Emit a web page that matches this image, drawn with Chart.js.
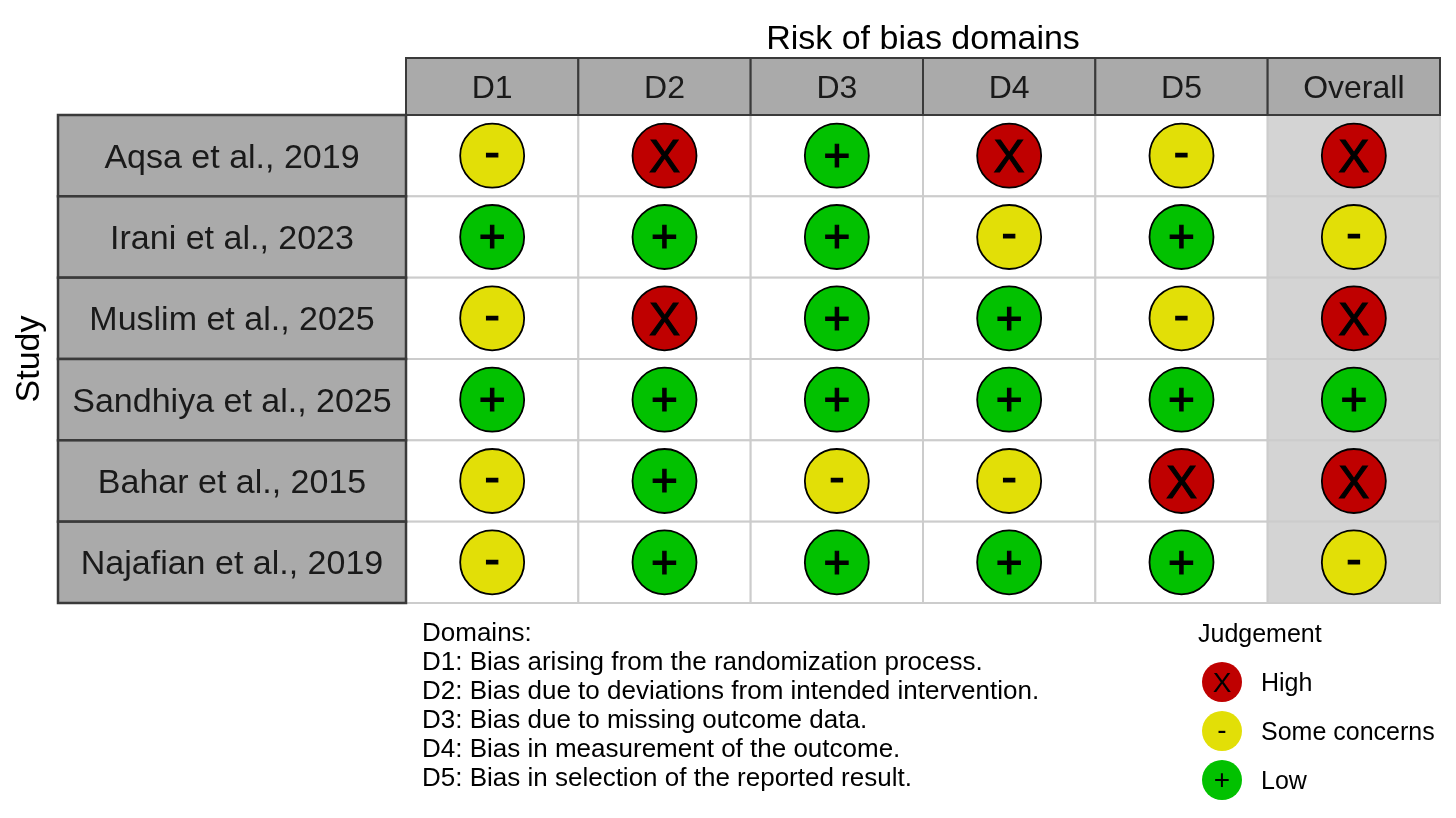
<!DOCTYPE html>
<html>
<head>
<meta charset="utf-8">
<script src="https://cdn.jsdelivr.net/npm/chart.js@4.4.1/dist/chart.umd.min.js"></script>
<style>
html, body { margin: 0; padding: 0; background: #fff; overflow: hidden; }
#wrap { width: 1456px; height: 818px; position: relative; }
</style>
</head>
<body>
<div id="wrap"><canvas id="robChart"></canvas></div>
<script>
const domains = ['D1', 'D2', 'D3', 'D4', 'D5', 'Overall'];
const studies = ['Aqsa et al., 2019', 'Irani et al., 2023', 'Muslim et al., 2025',
                 'Sandhiya et al., 2025', 'Bahar et al., 2015', 'Najafian et al., 2019'];

// judgement of each study, in domain order (H = high, S = some concerns, L = low)
const aqsa     = ['S', 'H', 'L', 'H', 'S', 'H'];
const irani    = ['L', 'L', 'L', 'S', 'L', 'S'];
const muslim   = ['S', 'H', 'L', 'L', 'S', 'H'];
const sandhiya = ['L', 'L', 'L', 'L', 'L', 'L'];
const bahar    = ['S', 'L', 'S', 'S', 'H', 'H'];
const najafian = ['S', 'L', 'L', 'L', 'L', 'S'];
const judgements = [aqsa, irani, muslim, sandhiya, bahar, najafian];

const levels = ['H', 'S', 'L'];
const levelNames = ['High', 'Some concerns', 'Low'];
const levelSymbols = ['X', '-', '+'];
const levelColors = ['#BF0000', '#E2DF07', '#02C100'];

const domainNotes = [
  'Domains:',
  'D1: Bias arising from the randomization process.',
  'D2: Bias due to deviations from intended intervention.',
  'D3: Bias due to missing outcome data.',
  'D4: Bias in measurement of the outcome.',
  'D5: Bias in selection of the reported result.'
];

const FONT = '"Liberation Sans", Arial, Helvetica, sans-serif';

// one dataset per judgement level
const datasets = levels.map((lv, k) => {
  const pts = [];
  judgements.forEach((row, s) => {
    row.forEach((j, d) => {
      if (j === lv) pts.push({ x: domains[d], y: studies[s] });
    });
  });
  return {
    label: levelNames[k],
    symbol: levelSymbols[k],
    data: pts,
    backgroundColor: levelColors[k],
    borderColor: '#000',
    borderWidth: 1.8,
    pointRadius: 32,
    pointHoverRadius: 32
  };
});

// baseline shift so each symbol sits in the middle of its circle
function symbolOffset(sym, size) {
  if (sym === '-') return size * 0.27;
  if (sym === '+') return size * 0.33;
  return size * 0.36;
}

const robPlugin = {
  id: 'robGrid',
  beforeDatasetsDraw(chart) {
    const ctx = chart.ctx;
    const area = chart.chartArea;
    const xs = chart.scales.x, ys = chart.scales.y;
    const cw = (area.right - area.left) / domains.length;
    const rh = (area.bottom - area.top) / studies.length;
    ctx.save();

    // body cells
    domains.forEach((d, i) => {
      const cx = xs.getPixelForValue(i);
      studies.forEach((s, j) => {
        const cy = ys.getPixelForValue(j);
        ctx.fillStyle = d === 'Overall' ? '#d4d4d4' : '#ffffff';
        ctx.fillRect(cx - cw / 2, cy - rh / 2, cw, rh);
        ctx.strokeStyle = '#cccccc';
        ctx.lineWidth = 2;
        ctx.strokeRect(cx - cw / 2, cy - rh / 2, cw, rh);
      });
    });

    // header cells
    const hTop = 58;
    domains.forEach((d, i) => {
      const cx = xs.getPixelForValue(i);
      ctx.fillStyle = '#aaaaaa';
      ctx.fillRect(cx - cw / 2, hTop, cw, area.top - hTop);
      ctx.strokeStyle = '#3a3a3a';
      ctx.lineWidth = 2;
      ctx.strokeRect(cx - cw / 2, hTop, cw, area.top - hTop);
      ctx.fillStyle = '#1a1a1a';
      ctx.font = '32px ' + FONT;
      ctx.textAlign = 'center';
      ctx.textBaseline = 'alphabetic';
      ctx.fillText(d, cx, (hTop + area.top) / 2 + 11.5);
    });

    // study label cells
    const lLeft = 58;
    studies.forEach((s, j) => {
      const cy = ys.getPixelForValue(j);
      ctx.fillStyle = '#aaaaaa';
      ctx.fillRect(lLeft, cy - rh / 2, area.left - lLeft, rh);
      ctx.strokeStyle = '#3a3a3a';
      ctx.lineWidth = 2.5;
      ctx.strokeRect(lLeft, cy - rh / 2, area.left - lLeft, rh);
      ctx.fillStyle = '#1a1a1a';
      ctx.font = '34px ' + FONT;
      ctx.textAlign = 'center';
      ctx.textBaseline = 'alphabetic';
      ctx.fillText(s, (lLeft + area.left) / 2, cy + 12);
    });
    ctx.restore();
  },
  afterDatasetsDraw(chart) {
    const ctx = chart.ctx;
    ctx.save();
    ctx.fillStyle = '#000';
    ctx.strokeStyle = '#000';
    ctx.lineWidth = 1.2;
    ctx.textAlign = 'center';
    ctx.textBaseline = 'alphabetic';
    chart.data.datasets.forEach((ds, k) => {
      const meta = chart.getDatasetMeta(k);
      const size = 46;
      ctx.font = size + 'px ' + FONT;
      meta.data.forEach(pt => {
        const y = pt.y + symbolOffset(ds.symbol, size);
        ctx.fillText(ds.symbol, pt.x, y);
        ctx.strokeText(ds.symbol, pt.x, y);
      });
    });
    ctx.restore();
  },
  afterDraw(chart) {
    const ctx = chart.ctx;
    const area = chart.chartArea;
    ctx.save();
    ctx.fillStyle = '#000';

    // axis titles
    ctx.font = '34px ' + FONT;
    ctx.textAlign = 'center';
    ctx.textBaseline = 'alphabetic';
    ctx.fillText('Risk of bias domains', (area.left + area.right) / 2, 49);
    ctx.save();
    ctx.translate(30, (area.top + area.bottom) / 2);
    ctx.rotate(-Math.PI / 2);
    ctx.textBaseline = 'middle';
    ctx.fillText('Study', 0, 0);
    ctx.restore();

    // domain notes
    ctx.font = '26px ' + FONT;
    ctx.textAlign = 'left';
    domainNotes.forEach((line, i) => {
      ctx.fillText(line, 422, 641 + i * 29);
    });

    // judgement legend
    ctx.font = '25px ' + FONT;
    ctx.fillText('Judgement', 1198, 642);
    chart.data.datasets.forEach((ds, k) => {
      const cy = 682 + k * 49;
      ctx.beginPath();
      ctx.arc(1222, cy, 20, 0, Math.PI * 2);
      ctx.fillStyle = ds.backgroundColor;
      ctx.fill();
      ctx.fillStyle = '#000';
      ctx.font = '28px ' + FONT;
      ctx.textAlign = 'center';
      ctx.fillText(ds.symbol, 1222, cy + symbolOffset(ds.symbol, 28));
      ctx.font = '25px ' + FONT;
      ctx.textAlign = 'left';
      ctx.fillText(ds.label, 1261, cy + 9);
    });
    ctx.restore();
  }
};

new Chart(document.getElementById('robChart'), {
  type: 'scatter',
  data: { datasets: datasets },
  options: {
    responsive: true,
    maintainAspectRatio: false,
    animation: false,
    events: [],
    layout: { autoPadding: false, padding: { left: 406, top: 115, right: 16, bottom: 215 } },
    scales: {
      x: { type: 'category', labels: domains, offset: true, display: false },
      y: { type: 'category', labels: studies, offset: true, display: false }
    },
    plugins: {
      legend: { display: false },
      tooltip: { enabled: false }
    }
  },
  plugins: [robPlugin]
});
</script>
</body>
</html>
